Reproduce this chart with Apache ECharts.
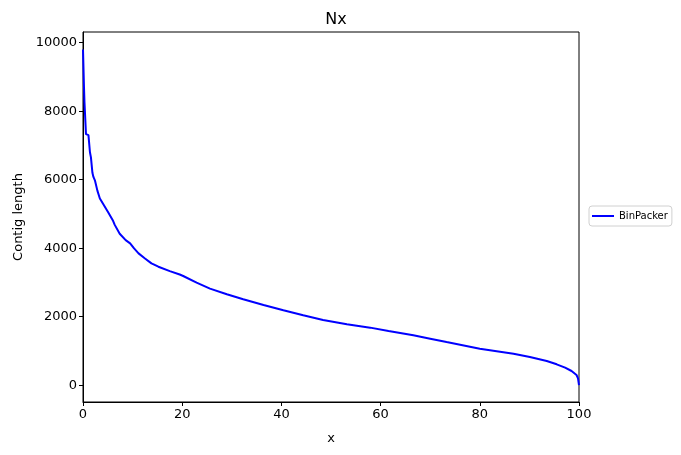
<!DOCTYPE html>
<html>
<head>
<meta charset="utf-8">
<script src="https://cdn.jsdelivr.net/npm/echarts@6/dist/echarts.min.js"></script>
<style>html,body{margin:0;padding:0;background:#fff}#c{width:681px;height:455px}</style>
</head>
<body>
<div id="c"></div>
<script>
const seriesName = 'BinPacker';
const xValues = [0, 0.2, 0.3, 0.5, 0.6, 1.1, 1.3, 1.4, 1.6, 1.9, 2.1, 2.4, 2.9, 3.4, 4.1, 5.1, 6.0, 6.4, 7.4, 8.6, 9.5, 10.3, 11.2, 12.5, 13.8, 15.2, 17.5, 19.5, 20.2, 22.9, 25.6, 29, 32.3, 36.4, 40.4, 44.4, 48.4, 53.2, 57.9, 61.6, 66.6, 70, 73.3, 80, 86.8, 90.1, 93.5, 95.5, 97.2, 98.5, 99.5, 99.8, 100];
const yValues = [9800, 8700, 8250, 8200, 7330, 7300, 7250, 6800, 6650, 6200, 6080, 5980, 5680, 5450, 5280, 5040, 4816, 4680, 4420, 4234, 4140, 3992, 3847, 3700, 3556, 3459, 3330, 3230, 3188, 2993, 2818, 2654, 2508, 2342, 2186, 2040, 1904, 1778, 1680, 1582, 1456, 1358, 1261, 1066, 920, 823, 706, 609, 511, 414, 298, 200, 0];
const yTicks = [0, 2000, 4000, 6000, 8000, 10000];
const xTicks = [0, 20, 40, 60, 80, 100];

const chart = echarts.init(document.getElementById('c'), null, {renderer: 'canvas'});
const font = 'DejaVu Sans';
chart.setOption({
  animation: false,
  backgroundColor: '#fff',
  textStyle: {fontFamily: font},
  title: {text: 'Nx', left: 331, textAlign: 'center', top: 7,
    textStyle: {fontFamily: font, fontSize: 16, fontWeight: 'normal', color: '#000'}},
  grid: {left: 83, right: 102, top: 32, bottom: 53, show: true, borderColor: '#000', borderWidth: 1, containLabel: false},
  legend: {
    left: 589, top: 206, orient: 'vertical',
    data: [{name: seriesName, icon: 'rect'}],
    borderColor: '#d0d0d0', borderWidth: 1, borderRadius: 3, padding: [5, 4, 5, 3],
    itemWidth: 22, itemHeight: 2, itemGap: 4,
    textStyle: {fontFamily: font, fontSize: 10, color: '#000'}
  },
  xAxis: {
    type: 'value', min: 0, max: 100,
    axisTick: {customValues: xTicks, length: 4, lineStyle: {color: '#000'}},
    axisLabel: {customValues: xTicks, color: '#000', fontSize: 13, margin: 6, formatter: v => String(v)},
    axisLine: {onZero: false, lineStyle: {color: '#000'}},
    splitLine: {show: false},
    name: 'x', nameLocation: 'middle', nameGap: 30,
    nameTextStyle: {color: '#000', fontSize: 13}
  },
  yAxis: {
    type: 'value', min: -491, max: 10311,
    axisTick: {customValues: yTicks, length: 4, lineStyle: {color: '#000'}},
    axisLabel: {customValues: yTicks, color: '#000', fontSize: 13, margin: 6, formatter: v => String(v)},
    axisLine: {show: true, onZero: false, lineStyle: {color: '#000'}},
    splitLine: {show: false},
    name: 'Contig length', nameLocation: 'middle', nameGap: 58, nameRotate: 90,
    nameTextStyle: {color: '#000', fontSize: 13}
  },
  series: [{
    name: seriesName, type: 'line', symbol: 'none', showSymbol: false,
    lineStyle: {color: '#0000ff', width: 2},
    itemStyle: {color: '#0000ff'},
    data: xValues.map((x, i) => [x, yValues[i]])
  }]
});
</script>
</body>
</html>
